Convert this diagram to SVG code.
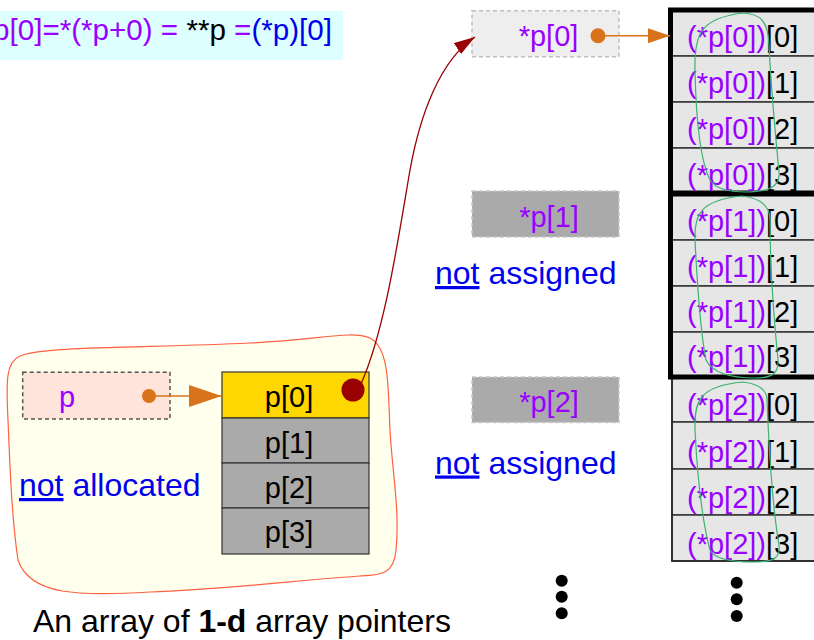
<svg xmlns="http://www.w3.org/2000/svg" width="814" height="640" viewBox="0 0 814 640">
<style>
text{font-family:"Liberation Sans",Arial,sans-serif}
.pu{fill:#9900ff}
.bl{fill:#0000ee}
.bk{fill:#000}
.cell{fill:#e6e6e6;stroke:#333;stroke-width:1.5}
.pcell{stroke:#333;stroke-width:1.2}
.loop{fill:none;stroke:#3cb371;stroke-width:1.2}
.ct{font-size:29px}
.big{font-size:32px}
.dot{fill:#000}
</style>
<defs>
<marker id="orA" markerUnits="userSpaceOnUse" markerWidth="34" markerHeight="24" refX="33" refY="11" orient="auto"><path d="M0,0L33,11L0,22Z" fill="#d9731a"/></marker>
<marker id="orB" markerUnits="userSpaceOnUse" markerWidth="24" markerHeight="16" refX="22" refY="7.5" orient="auto"><path d="M0,0L22,7.5L0,15Z" fill="#d9731a"/></marker>
<marker id="rdA" markerUnits="userSpaceOnUse" markerWidth="22" markerHeight="14" refX="21" refY="6.5" orient="auto"><path d="M0,0L21,6.5L0,13Z" fill="#990000"/></marker>
</defs>
<rect width="814" height="640" fill="#fff"/>
<g id="formula">
<rect x="0" y="11" width="343" height="49" fill="#ddffff"/>
<text x="332" y="40" font-size="29.6" text-anchor="end"><tspan class="pu">p[0]=*(*p+0) = </tspan><tspan class="bk">**p </tspan><tspan class="pu">=</tspan><tspan class="bl">(*p)[0]</tspan></text>
</g>
<g id="blob">
<path d="M20,356 C40,346 150,348 250,343 C320,340 350,330 370,338 C390,348 388,390 390,430 C392,470 400,510 396,550 C394,575 380,575 360,576 C300,580 220,590 150,592 C80,596 30,596 18,560 C12,520 10,470 8,420 C6,380 6,362 20,356 Z" fill="#ffffee" stroke="#ff6040" stroke-width="1.2"/>
</g>
<g id="pbox">
<rect x="22.7" y="372.3" width="147.3" height="46.7" fill="#ffe4dc" stroke="#555" stroke-width="1.5" stroke-dasharray="4,3"/>
<text x="67" y="407" class="ct pu" text-anchor="middle">p</text>
</g>
<g id="parray">
<rect x="222" y="372" width="147" height="46" fill="#ffd700" class="pcell"/>
<rect x="222" y="418" width="147" height="45" fill="#aaaaaa" class="pcell"/>
<rect x="222" y="463" width="147" height="45" fill="#aaaaaa" class="pcell"/>
<rect x="222" y="508" width="147" height="46" fill="#aaaaaa" class="pcell"/>
<text x="289" y="407" class="ct bk" text-anchor="middle">p[0]</text>
<text x="289" y="452.5" class="ct bk" text-anchor="middle">p[1]</text>
<text x="289" y="497.5" class="ct bk" text-anchor="middle">p[2]</text>
<text x="289" y="542" class="ct bk" text-anchor="middle">p[3]</text>
</g>
<g id="labels">
<text x="19" y="496" class="big bl"><tspan text-decoration="underline">not</tspan> allocated</text>
<text x="435" y="284" class="big bl"><tspan text-decoration="underline">not</tspan> assigned</text>
<text x="435" y="473.5" class="big bl"><tspan text-decoration="underline">not</tspan> assigned</text>
<text x="33" y="632" class="big bk">An array of <tspan font-weight="bold">1-d</tspan> array pointers</text>
</g>
<g id="star0">
<rect x="472" y="10.7" width="147" height="46" fill="#eeeeee" stroke="#c0c0c0" stroke-width="1.5" stroke-dasharray="4,3"/>
<text x="548.5" y="45.5" class="ct pu" text-anchor="middle">*p[0]</text>
</g>
<g id="star1">
<rect x="472" y="191" width="147" height="46" fill="#aaaaaa" stroke="#c8c8c8" stroke-width="1.5" stroke-dasharray="4,3"/>
<text x="549" y="226.7" class="ct pu" text-anchor="middle">*p[1]</text>
</g>
<g id="star2">
<rect x="472" y="377" width="147" height="45.5" fill="#aaaaaa" stroke="#c8c8c8" stroke-width="1.5" stroke-dasharray="4,3"/>
<text x="549" y="411.5" class="ct pu" text-anchor="middle">*p[2]</text>
</g>
<g id="array2">
<rect x="672" y="376" width="160" height="46" class="cell"/>
<rect x="672" y="422" width="160" height="47" class="cell"/>
<rect x="672" y="469" width="160" height="46" class="cell"/>
<rect x="672" y="515" width="160" height="46" class="cell"/>
<rect x="672" y="376" width="160" height="185" fill="none" stroke="#222" stroke-width="1.5"/>
<text x="687" y="415" class="ct"><tspan class="pu">(*p[2])</tspan><tspan class="bk">[0]</tspan></text>
<text x="687" y="461.5" class="ct"><tspan class="pu">(*p[2])</tspan><tspan class="bk">[1]</tspan></text>
<text x="687" y="508" class="ct"><tspan class="pu">(*p[2])</tspan><tspan class="bk">[2]</tspan></text>
<text x="687" y="554" class="ct"><tspan class="pu">(*p[2])</tspan><tspan class="bk">[3]</tspan></text>
</g>
<g id="array1">
<rect x="670.5" y="194" width="160" height="46" class="cell"/>
<rect x="670.5" y="240" width="160" height="46" class="cell"/>
<rect x="670.5" y="286" width="160" height="46" class="cell"/>
<rect x="670.5" y="332" width="160" height="45" class="cell"/>
<rect x="670.5" y="194" width="160" height="183" fill="none" stroke="#000" stroke-width="5"/>
<text x="687" y="231" class="ct"><tspan class="pu">(*p[1])</tspan><tspan class="bk">[0]</tspan></text>
<text x="687" y="277" class="ct"><tspan class="pu">(*p[1])</tspan><tspan class="bk">[1]</tspan></text>
<text x="687" y="322" class="ct"><tspan class="pu">(*p[1])</tspan><tspan class="bk">[2]</tspan></text>
<text x="687" y="367" class="ct"><tspan class="pu">(*p[1])</tspan><tspan class="bk">[3]</tspan></text>
</g>
<g id="array0">
<rect x="670.5" y="10" width="160" height="46" class="cell"/>
<rect x="670.5" y="56" width="160" height="46" class="cell"/>
<rect x="670.5" y="102" width="160" height="46" class="cell"/>
<rect x="670.5" y="148" width="160" height="45" class="cell"/>
<rect x="670.5" y="10" width="160" height="183" fill="none" stroke="#000" stroke-width="5"/>
<text x="687" y="46.7" class="ct"><tspan class="pu">(*p[0])</tspan><tspan class="bk">[0]</tspan></text>
<text x="687" y="92.7" class="ct"><tspan class="pu">(*p[0])</tspan><tspan class="bk">[1]</tspan></text>
<text x="687" y="138.5" class="ct"><tspan class="pu">(*p[0])</tspan><tspan class="bk">[2]</tspan></text>
<text x="687" y="185" class="ct"><tspan class="pu">(*p[0])</tspan><tspan class="bk">[3]</tspan></text>
</g>
<g id="loops">
<path class="loop" d="M743,13 C760,14 768,20 769,45 C771,90 776,140 779,172 C781,188 765,192 746,192 C728,192 715,188 710,180 C700,160 696,120 695,70 C694,35 700,18 743,13 Z"/>
<path class="loop" d="M742,196 C760,198 770,205 770,220 C770,270 774,320 778,360 C779,375 770,378 755,378 C730,378 712,372 706,360 C700,330 697,280 695,240 C694,215 700,200 742,196 Z"/>
<path class="loop" d="M743,382 C760,384 767,390 767,400 C769,450 773,510 779,545 C781,560 770,562 753,562 C730,562 714,558 710,550 C702,520 697,470 695,430 C694,400 700,386 743,382 Z"/>
</g>
<g id="connectors">
<line x1="149" y1="396" x2="221.7" y2="396" stroke="#d9731a" stroke-width="1.5" marker-end="url(#orA)"/>
<circle cx="149" cy="396" r="7" fill="#d9731a"/>
<line x1="598" y1="35.7" x2="670" y2="35.7" stroke="#d9731a" stroke-width="1.5" marker-end="url(#orB)"/>
<circle cx="598" cy="35.7" r="7.5" fill="#d9731a"/>
<path d="M361,384 C385,330 398,240 410,170 C420,115 440,60 475,37" fill="none" stroke="#990000" stroke-width="1.3" marker-end="url(#rdA)"/>
<circle cx="353" cy="390" r="11.5" fill="#990000"/>
</g>
<g id="ellipsis">
<circle class="dot" cx="561.7" cy="580.7" r="6"/>
<circle class="dot" cx="561.7" cy="596.7" r="6"/>
<circle class="dot" cx="561.7" cy="613.3" r="6"/>
<circle class="dot" cx="736.7" cy="582.7" r="6"/>
<circle class="dot" cx="736.7" cy="599.3" r="6"/>
<circle class="dot" cx="736.7" cy="616" r="6"/>
</g>
</svg>
